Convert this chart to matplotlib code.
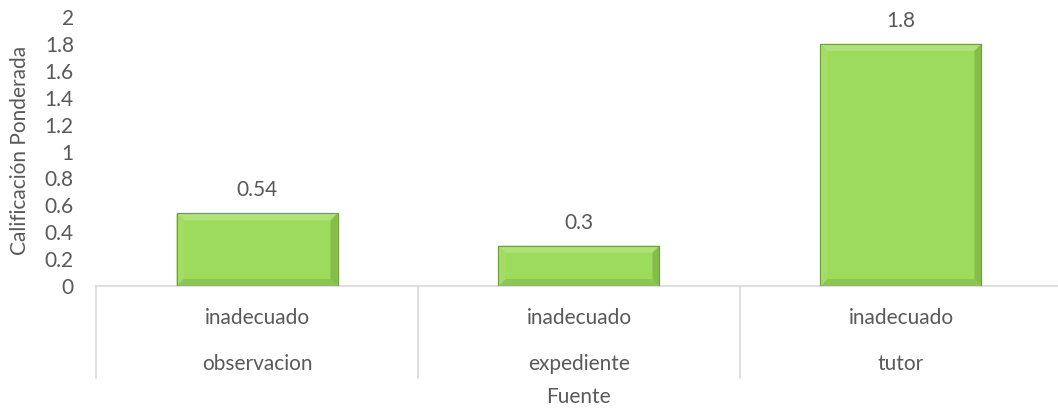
import matplotlib
matplotlib.use("Agg")
import matplotlib.pyplot as plt
from matplotlib.patches import Polygon
from matplotlib.transforms import blended_transform_factory

plt.rcParams['font.family'] = ['Lato', 'DejaVu Sans']

level_labels = ["inadecuado", "inadecuado", "inadecuado"]
sources = ["observacion", "expediente", "tutor"]
values = [0.54, 0.3, 1.8]
value_labels = ["0.54", "0.3", "1.8"]
yticks = [0, 0.2, 0.4, 0.6, 0.8, 1, 1.2, 1.4, 1.6, 1.8, 2]
ytick_labels = ["0", "0.2", "0.4", "0.6", "0.8", "1", "1.2", "1.4", "1.6", "1.8", "2"]

W, H = 1058, 411
fig = plt.figure(figsize=(W / 100, H / 100), dpi=100)
left, right, bottom, top = 96, 1058, 286, 17
ax = fig.add_axes([left / W, (H - bottom) / H, (right - left) / W, (bottom - top) / H])

text_col = "#595959"
line_col = "#D9D9D9"
green = "#9DDB5C"
edge = "#6F9E3C"
fs = 15

cat_w = 322.0
x = list(range(len(values)))
ax.set_xlim(-0.5, -0.5 + (right - left) / cat_w)
ax.set_ylim(0, 2)

bars = ax.bar(x, values, width=0.5, color=green, edgecolor=edge, linewidth=0.8, zorder=3)

# bevel effect
ppx = 1.0 / cat_w                  # data units per pixel (x)
ppy = 2.0 / (bottom - top)         # data units per pixel (y)
b = 7
for r in bars:
    x0, w, h = r.get_x(), r.get_width(), r.get_height()
    x1, y1 = x0 + w, h
    dx, dy = b * ppx, b * ppy
    ax.add_patch(Polygon([(x0, y1), (x1, y1), (x1 - dx, y1 - dy), (x0 + dx, y1 - dy)],
                         closed=True, color="#AFE37A", lw=0, zorder=4))
    ax.add_patch(Polygon([(x0, 0), (x1, 0), (x1 - dx, dy), (x0 + dx, dy)],
                         closed=True, color="#8CC64E", lw=0, zorder=4))
    ax.add_patch(Polygon([(x0, 0), (x0, y1), (x0 + dx, y1 - dy), (x0 + dx, dy)],
                         closed=True, color="#A3DD66", lw=0, zorder=4))
    ax.add_patch(Polygon([(x1, 0), (x1, y1), (x1 - dx, y1 - dy), (x1 - dx, dy)],
                         closed=True, color="#86BC4A", lw=0, zorder=4))
    ax.add_patch(plt.Rectangle((x0, 0), w, h, fill=False, edgecolor=edge, lw=0.8, zorder=5))

for xi, v, lab in zip(x, values, value_labels):
    ax.annotate(lab, (xi, v), xytext=(0, 16.5), textcoords="offset points",
                ha="center", va="center", fontsize=fs, color=text_col)

for s in ["top", "right", "left"]:
    ax.spines[s].set_visible(False)
ax.spines["bottom"].set_color(line_col)
ax.spines["bottom"].set_linewidth(1.2)

ax.set_yticks(yticks)
ax.set_yticklabels(ytick_labels, fontsize=fs, color=text_col)
ax.tick_params(axis="y", length=0, pad=16)
ax.set_xticks([])

# category axis with dividers
trans = blended_transform_factory(ax.transData, ax.transAxes)
axis_h = bottom - top
drop = (378 - bottom) / axis_h
for i in range(len(values) + 1):
    xb = i - 0.5
    ax.plot([xb, xb], [0, -drop], transform=trans, color=line_col, lw=1.2, clip_on=False)
for xi, lv, src in zip(x, level_labels, sources):
    ax.text(xi, -(318 - bottom) / axis_h, lv, transform=trans, ha="center", va="center",
            fontsize=fs, color=text_col)
    ax.text(xi, -(364 - bottom) / axis_h, src, transform=trans, ha="center", va="center",
            fontsize=fs, color=text_col)

fig.text(578 / W, 1 - 397 / H, "Fuente", ha="center", va="center", fontsize=fs, color=text_col)
fig.text(20 / W, 1 - 150 / H, "Calificación Ponderada", ha="center", va="center",
         rotation=90, fontsize=fs, color=text_col)

fig.savefig("out.png", dpi=100)
